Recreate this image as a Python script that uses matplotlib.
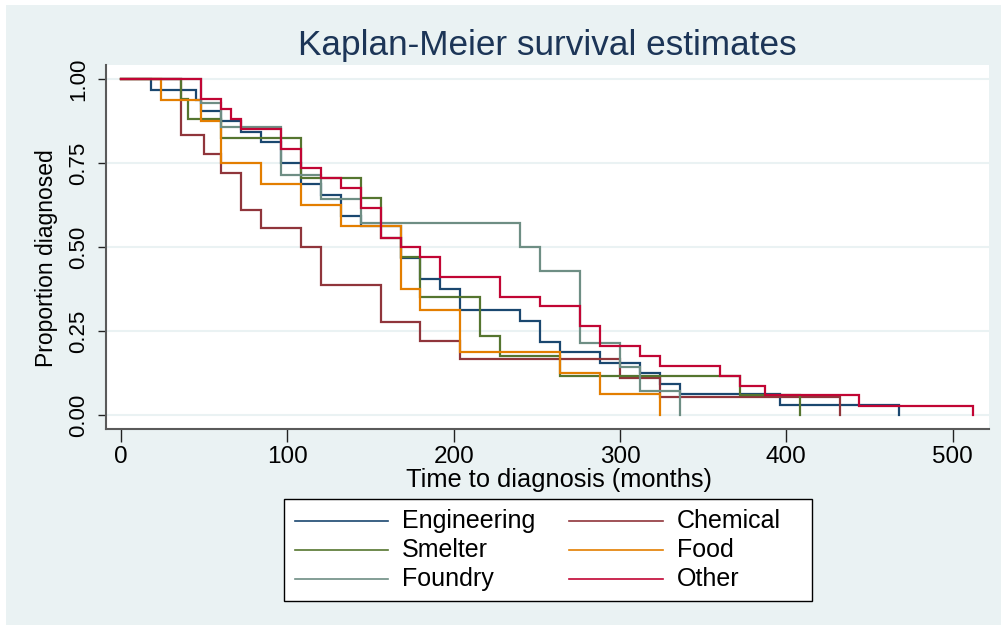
import matplotlib
matplotlib.use('Agg')
import matplotlib.pyplot as plt
from matplotlib.lines import Line2D
from matplotlib.patches import Rectangle

plt.rcParams['font.family'] = ['Liberation Sans', 'DejaVu Sans']

# ---- data (Kaplan-Meier step points: time in months, survival after the step) ----
groups = ['Engineering', 'Chemical', 'Smelter', 'Food', 'Foundry', 'Other']

eng_t = [0, 18, 45, 48, 60, 72, 84, 96, 108, 120, 132, 144, 168, 180, 192, 204,
         240, 252, 264, 288, 312, 324, 336, 396, 468]
eng_s = [1, .969, .9375, .906, .875, .844, .8125, .75, .6875, .656, .594, .5625,
         .469, .406, .375, .3125, .281, .219, .1875, .156, .125, .094, .0625, .031, 0]

chem_t = [0, 36, 50, 60, 72, 84, 108, 120, 156, 180, 204, 300, 324, 432]
chem_s = [1, .833, .778, .722, .611, .556, .5, .389, .278, .222, .167, .111, .056, 0]

smel_t = [0, 36, 40, 60, 108, 144, 156, 168, 180, 216, 228, 264, 372, 408]
smel_s = [1, .941, .882, .824, .706, .647, .529, .471, .353, .235, .176, .118, .059, 0]

food_t = [0, 24, 48, 60, 84, 108, 132, 168, 180, 204, 264, 288, 324]
food_s = [1, .9375, .875, .75, .6875, .625, .5625, .375, .3125, .1875, .125, .0625, 0]

foun_t = [0, 48, 60, 96, 120, 144, 240, 252, 276, 300, 312, 336]
foun_s = [1, .929, .857, .714, .643, .571, .5, .429, .214, .143, .071, 0]

oth_t = [0, 48, 60, 66, 72, 96, 108, 120, 132, 144, 156, 168, 180, 192, 228, 252,
         276, 288, 312, 324, 360, 372, 387, 444, 512]
oth_s = [1, .941, .912, .882, .853, .794, .735, .706, .676, .618, .529, .5, .471,
         .412, .353, .324, .265, .206, .176, .147, .118, .088, .059, .029, 0]

x_ticks = [0, 100, 200, 300, 400, 500]
y_ticks = [0, .25, .5, .75, 1]
y_ticklabels = ['0.00', '0.25', '0.50', '0.75', '1.00']

series = [(eng_t, eng_s), (chem_t, chem_s), (smel_t, smel_s),
          (food_t, food_s), (foun_t, foun_s), (oth_t, oth_s)]
colors = ['#1a476f', '#90353b', '#55752f', '#e37e00', '#6e8e84', '#c10534']

# ---- figure ----
W, H = 1001, 625
BG = '#eaf2f3'
fig = plt.figure(figsize=(W / 100, H / 100), dpi=100, facecolor='white')
fig.patches.append(Rectangle((6 / W, 0), 1 - 6 / W, 1 - 5 / H, transform=fig.transFigure,
                             facecolor=BG, edgecolor='none', zorder=-10))

ax = fig.add_axes([106 / W, 1 - 429 / H, (989 - 106) / W, (429 - 65) / H])
ax.set_facecolor('white')

for (t, s), c in zip(series, colors):
    ax.step(t, s, where='post', color=c, lw=1.6, solid_joinstyle='miter')

ax.set_xlim(-9.14, 521.9)
ax.set_ylim(-0.0407, 1.0425)
ax.set_xticks(x_ticks)
ax.set_xticklabels([str(v) for v in x_ticks])
ax.set_yticks(y_ticks)
ax.set_yticklabels(y_ticklabels, rotation=90, va='center')
ax.grid(axis='y', color=BG, lw=1.5)
ax.set_axisbelow(True)
for sp in ['top', 'right']:
    ax.spines[sp].set_visible(False)
for sp in ['left', 'bottom']:
    ax.spines[sp].set_color('#5a5a5a')
    ax.spines[sp].set_linewidth(1.5)
ax.tick_params(axis='x', length=9, width=1, color='#222222', labelsize=17.5, pad=3)
ax.tick_params(axis='y', length=6, width=1, color='#222222', labelsize=16, pad=6)

fig.text(547 / W, 1 - 45 / H, 'Kaplan-Meier survival estimates', ha='center', va='center',
         fontsize=25.3, color='#1c3557')
fig.text(559 / W, 1 - 480 / H, 'Time to diagnosis (months)', ha='center', va='center',
         fontsize=18.3, color='black')
fig.text(47 / W, 1 - 258 / H, 'Proportion diagnosed', ha='center', va='center',
         rotation=90, fontsize=16.5, color='black')

# ---- legend (drawn manually to match layout) ----
fig.patches.append(Rectangle((284 / W, 1 - 601 / H), (812 - 284) / W, (601 - 499) / H,
                             transform=fig.transFigure, facecolor='white',
                             edgecolor='black', lw=1.0, zorder=5))
rows = [520.7, 550, 579.3]
cols = [(295, 388, 402), (569, 663, 677)]
for i, (name, c) in enumerate(zip(groups, colors)):
    r, col = divmod(i, 2)
    x0, x1, xt = cols[col]
    y = 1 - rows[r] / H
    fig.add_artist(Line2D([x0 / W, x1 / W], [y, y], transform=fig.transFigure,
                          color=c, lw=1.2, zorder=6))
    fig.text(xt / W, y, name, ha='left', va='center', fontsize=18, color='black', zorder=6)

fig.savefig('out.png', dpi=100, facecolor=fig.get_facecolor())
